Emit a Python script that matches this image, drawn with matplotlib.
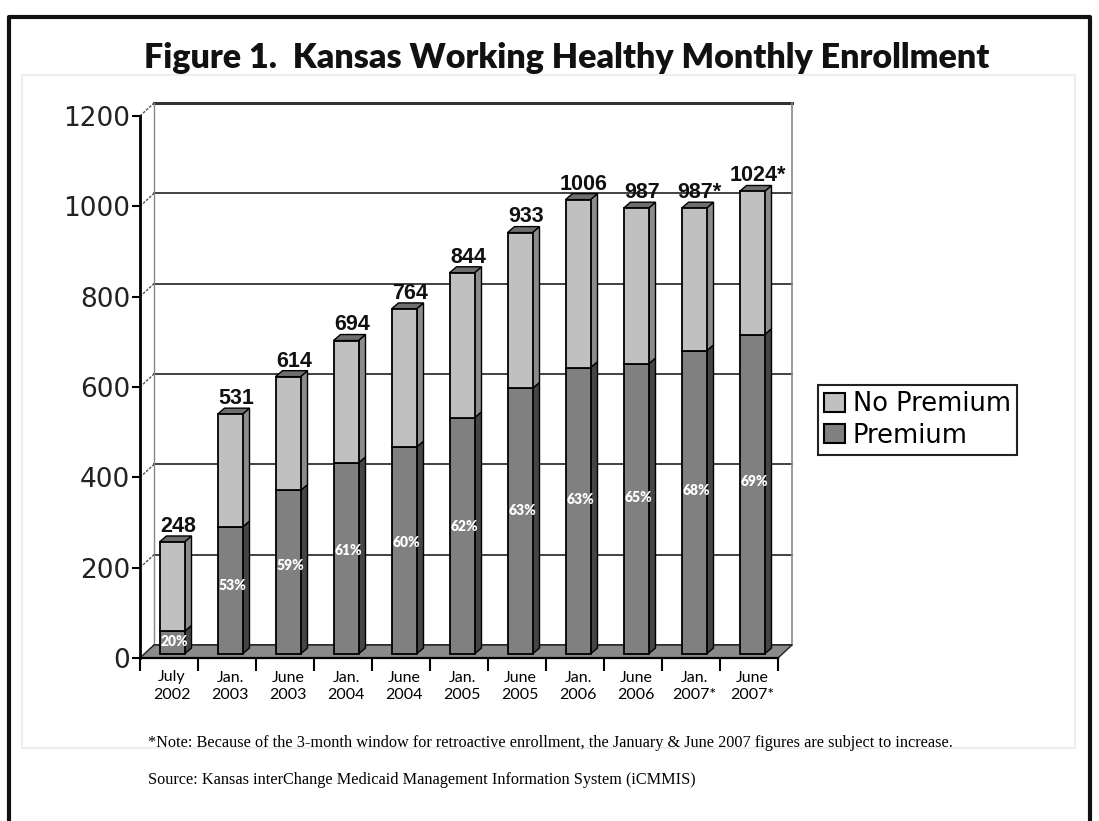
import matplotlib.pyplot as plt
from matplotlib.patches import Polygon, Rectangle
from matplotlib.lines import Line2D

# data
periods = ['July\n2002', 'Jan.\n2003', 'June\n2003', 'Jan.\n2004', 'June\n2004', 'Jan.\n2005',
           'June\n2005', 'Jan.\n2006', 'June\n2006', 'Jan.\n2007*', 'June\n2007*']
totals = [248, 531, 614, 694, 764, 844, 933, 1006, 987, 987, 1024]
total_labels = ['248', '531', '614', '694', '764', '844', '933', '1006', '987', '987*', '1024*']
premium = [50, 281, 362, 423, 458, 523, 588, 634, 642, 671, 707]
pct_labels = ['20%', '53%', '59%', '61%', '60%', '62%', '63%', '63%', '65%', '68%', '69%']
no_premium = [t - p for t, p in zip(totals, premium)]

W, H = 1099, 821
fig = plt.figure(figsize=(W / 100, H / 100), dpi=100)
ax_l, ax_r, ax_b, ax_t = 140, 778, 658, 116
ax = fig.add_axes([ax_l / W, 1 - ax_b / H, (ax_r - ax_l) / W, (ax_b - ax_t) / H])
n = len(totals)
ax.set_xlim(0, n)
ax.set_ylim(0, 1200)

# pixel -> data unit helpers for the fake 3d look
px_x = (ax_r - ax_l) / n
px_y = (ax_b - ax_t) / 1200
dep_x, dep_y = 14 / px_x, 13 / px_y          # back wall offset
bx, by = 7 / px_x, 6 / px_y                  # bar depth
base = 4 / px_y
sx = 3 / px_x
w = 25 / px_x

# back wall grid
for v in range(0, 1201, 200):
    ax.plot([dep_x, n + dep_x], [v + dep_y, v + dep_y], color='#333333',
            lw=2.2 if v == 1200 else 1.3, clip_on=False, zorder=0.5)
    ax.plot([0, dep_x], [v, v + dep_y], color='#555555', lw=1, ls=(0, (2, 1)),
            clip_on=False, zorder=0.6)
ax.plot([dep_x, dep_x], [dep_y, 1200 + dep_y], color='#888888', lw=1, clip_on=False, zorder=0.5)
ax.plot([n + dep_x, n + dep_x], [dep_y, 1200 + dep_y], color='#888888', lw=1.2,
        clip_on=False, zorder=0.5)

# floor
floor = Polygon([(0, 0), (n, 0), (n + dep_x, dep_y), (dep_x, dep_y)], closed=True,
                facecolor='#8a8a8a', edgecolor='#222222', lw=1, clip_on=False, zorder=1)
ax.add_patch(floor)

centers = [i + 0.5 + sx for i in range(n)]
ax.bar(centers, premium, width=w, bottom=base, color='#808080', edgecolor='black', lw=1.3, zorder=3)
ax.bar(centers, no_premium, width=w, bottom=[base + p for p in premium], color='#c0c0c0',
       edgecolor='black', lw=1.3, zorder=3)

for i in range(n):
    x0 = centers[i] - w / 2
    x1 = centers[i] + w / 2
    p, t = base + premium[i], base + totals[i]
    ax.add_patch(Polygon([(x1, base), (x1 + bx, base + by), (x1 + bx, p + by), (x1, p)],
                         facecolor='#454545', edgecolor='black', lw=1, zorder=2.9, clip_on=False))
    ax.add_patch(Polygon([(x1, p), (x1 + bx, p + by), (x1 + bx, t + by), (x1, t)],
                         facecolor='#8c8c8c', edgecolor='black', lw=1, zorder=2.9, clip_on=False))
    ax.add_patch(Polygon([(x0, t), (x0 + bx, t + by), (x1 + bx, t + by), (x1, t)],
                         facecolor='#6e6e6e', edgecolor='black', lw=1, zorder=2.9, clip_on=False))
    ax.text((x0 + x1 + bx) / 2 + 0.04, t + by - 2, total_labels[i], ha='center', va='bottom',
            fontsize=15.5, fontweight='bold', family='Liberation Sans', color='#111111',
            clip_on=False, zorder=5)
    ax.text(centers[i] + 0.05, base + premium[i] * 0.54, pct_labels[i], ha='center', va='center',
            fontsize=10, fontweight='heavy', family='Lato', color='white', zorder=5)

# axes styling
for s in ['top', 'right']:
    ax.spines[s].set_visible(False)
ax.spines['left'].set_linewidth(2)
ax.spines['bottom'].set_linewidth(1.6)
ax.spines['left'].set_zorder(6)
ax.spines['bottom'].set_zorder(6)
ax.set_facecolor('none')

ax.set_yticks(range(0, 1201, 200))
ax.tick_params(axis='y', length=6, width=1.5, pad=1, labelsize=19, labelcolor='#222222')
for lab in ax.get_yticklabels():
    lab.set_family('DejaVu Sans')

ax.set_xticks(range(0, n + 1))
ax.set_xticklabels([])
ax.tick_params(axis='x', which='major', length=9, width=1.5)
ax.set_xticks(centers, minor=True)
ax.set_xticklabels(periods, minor=True, fontsize=11.5, family='Lato', linespacing=1.3)
ax.tick_params(axis='x', which='minor', length=0, pad=9)

# legend
h1 = Rectangle((0, 0), 1, 1, facecolor='#c0c0c0', edgecolor='black', lw=1.5)
h2 = Rectangle((0, 0), 1, 1, facecolor='#808080', edgecolor='black', lw=1.5)
leg = fig.legend([h1, h2], ['No Premium', 'Premium'], loc='center left',
                 bbox_to_anchor=(818 / W, 1 - 420 / H), bbox_transform=fig.transFigure,
                 fancybox=False, framealpha=1, edgecolor='#222222', fontsize=18.5,
                 handlelength=0.8, handleheight=0.8, handletextpad=0.3, labelspacing=0.2,
                 borderpad=0.25, borderaxespad=0)
leg.get_frame().set_linewidth(1.5)

# title and notes
fig.text(567 / W, 1 - 58 / H, 'Figure 1.  Kansas Working Healthy Monthly Enrollment',
         ha='center', va='center', fontsize=24.5, fontweight='heavy', family='Lato', color='#111111')
fig.text(148 / W, 1 - 743 / H,
         '*Note: Because of the 3-month window for retroactive enrollment, the January & June 2007 '
         'figures are subject to increase.', ha='left', va='center', fontsize=11.7,
         family='Liberation Serif')
fig.text(148 / W, 1 - 780 / H,
         'Source: Kansas interChange Medicaid Management Information System (iCMMIS)',
         ha='left', va='center', fontsize=11.7, family='Liberation Serif')

# faint inner panel and heavy outer frame
fig.add_artist(Rectangle((22 / W, 1 - 748 / H), (1075 - 22) / W, (748 - 75) / H,
                         transform=fig.transFigure, facecolor='none', edgecolor='#eeeeee', lw=1.5))
fig.add_artist(Line2D([9 / W, 9 / W, 1090 / W, 1090 / W], [0, 1 - 17 / H, 1 - 17 / H, 0],
                      transform=fig.transFigure, color='#111111', lw=3))

fig.savefig('out.png', dpi=100)
